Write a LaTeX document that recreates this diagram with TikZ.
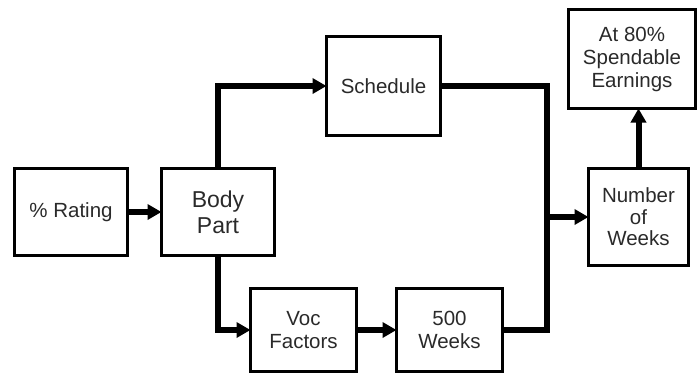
\documentclass[tikz,border=0pt]{standalone}
\usepackage{fontspec}
\setmainfont{Liberation Sans}
\usetikzlibrary{arrows.meta}
\definecolor{txt}{HTML}{2a2a2a}
\begin{document}
\begin{tikzpicture}[x=1pt,y=-1pt,
  box/.style={draw, line width=3pt, inner sep=0pt, outer sep=0pt, align=center,
    text=txt, font=\fontsize{20.5}{23}\selectfont},
  conn/.style={line width=6pt, -{Triangle[length=14pt,width=15pt]}},
  plain/.style={line width=6pt}]
\useasboundingbox (0,0) rectangle (699,375);
\node[box, minimum width=113pt, minimum height=87pt] (rating) at (71,212) {\% Rating};
\node[box, minimum width=113pt, minimum height=87pt, font=\fontsize{23}{26}\selectfont] (body) at (218,212) {Body\\Part};
\node[box, minimum width=114pt, minimum height=99pt] (sched) at (383.5,86) {Schedule};
\node[box, minimum width=106pt, minimum height=83pt] (voc) at (303.5,330) {Voc\\Factors};
\node[box, minimum width=106pt, minimum height=83pt] (w500) at (449.5,330) {500\\Weeks};
\node[box, minimum width=100pt, minimum height=97pt, font=\fontsize{20.5}{21.5}\selectfont] (num) at (638.5,217) {Number\\of\\Weeks};
\node[box, minimum width=127pt, minimum height=99pt] (at80) at (632,59) {At 80\%\\Spendable\\Earnings};
\coordinate (j) at (547,217);
\draw[conn] (rating) -- (body);
\draw[conn] (body.north) |- (sched.west);
\draw[conn] (body.south) |- (voc.west);
\draw[conn] (voc) -- (w500);
\draw[plain, line join=miter] (sched.east) -| (j) |- (w500.east);
\draw[conn] (j) -- (num.west);
\draw[conn] (num.north) -- (num.north |- at80.south);
\end{tikzpicture}
\end{document}
